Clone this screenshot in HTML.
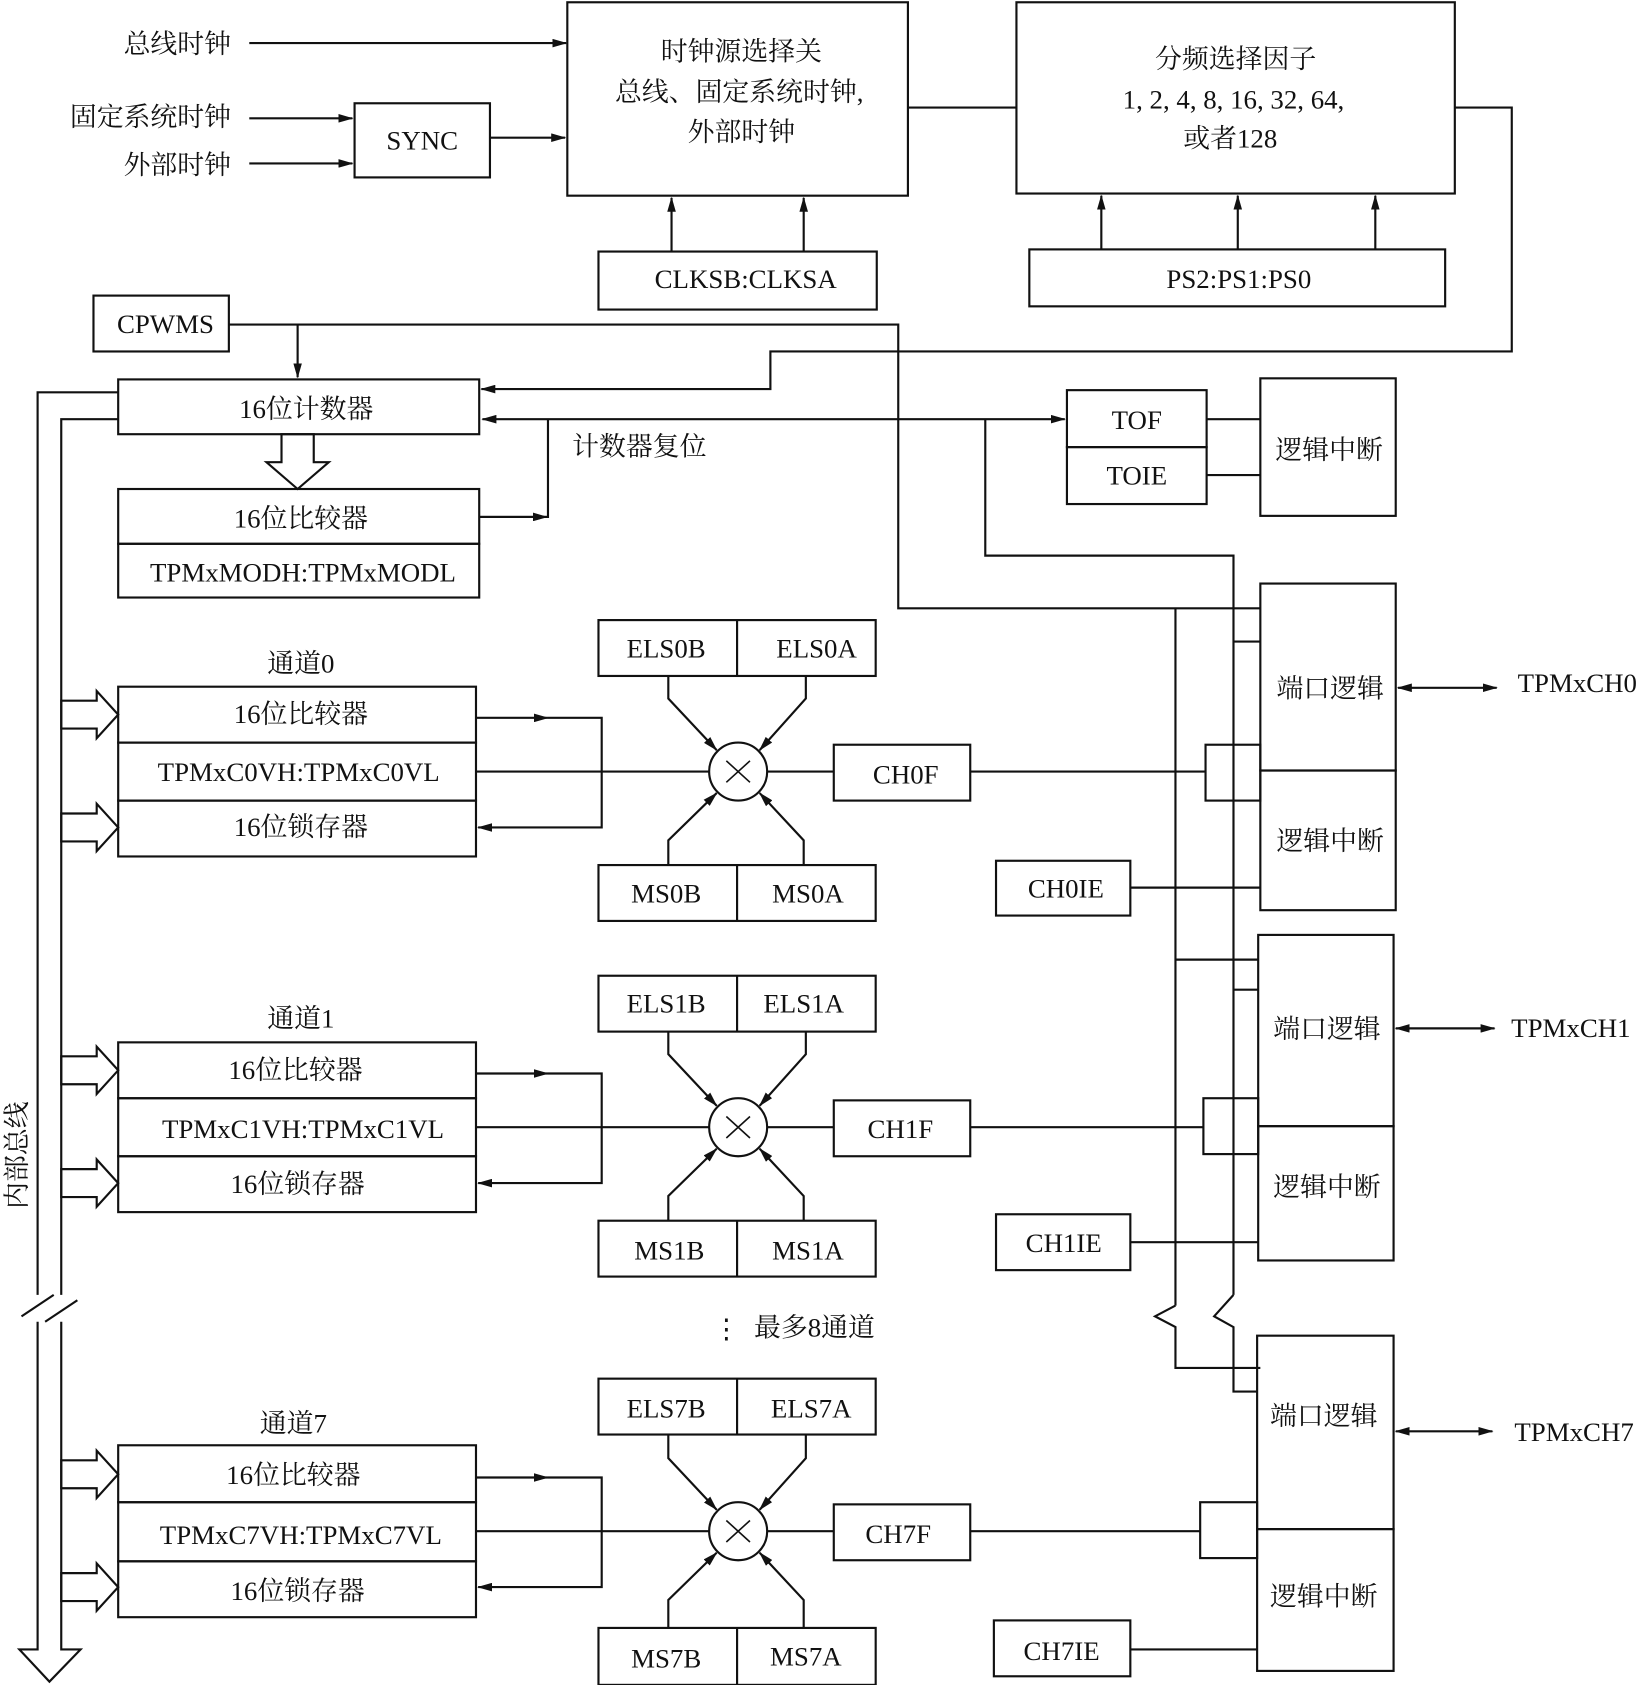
<!DOCTYPE html>
<html><head><meta charset="utf-8">
<style>
html,body{margin:0;padding:0;background:#fff;}
svg{display:block;}
text{font-family:"Liberation Serif","Noto Serif CJK SC","Noto Sans CJK SC",serif;font-size:25px;fill:#111;}
</style></head><body>
<svg width="1645" height="1685" viewBox="0 0 1531 1568" xmlns="http://www.w3.org/2000/svg">
<defs>
<marker id="a" markerWidth="14" markerHeight="8" refX="13" refY="4" orient="auto" markerUnits="userSpaceOnUse"><path d="M0,0 L14,4 L0,8 z" fill="#111"/></marker>
<marker id="s" markerWidth="14" markerHeight="8" refX="1" refY="4" orient="auto" markerUnits="userSpaceOnUse"><path d="M14,0 L0,4 L14,8 z" fill="#111"/></marker>
</defs>
<g fill="none" stroke="#111" stroke-width="2">
<!-- top -->
<line x1="232" y1="40" x2="527" y2="40" marker-end="url(#a)"/>
<line x1="232" y1="110" x2="328" y2="110" marker-end="url(#a)"/>
<line x1="232" y1="152" x2="328" y2="152" marker-end="url(#a)"/>
<rect x="330" y="96" width="126" height="69"/>
<line x1="456" y1="128" x2="526" y2="128" marker-end="url(#a)"/>
<rect x="528" y="2" width="317" height="180"/>
<line x1="845" y1="100" x2="946" y2="100"/>
<rect x="946" y="2" width="408" height="178"/>
<polyline points="1354,100 1407,100 1407,327 717,327 717,362 448,362" marker-end="url(#a)"/>
<rect x="557" y="234" width="259" height="54"/>
<line x1="625" y1="234" x2="625" y2="184" marker-end="url(#a)"/>
<line x1="748" y1="234" x2="748" y2="184" marker-end="url(#a)"/>
<rect x="958" y="232" width="387" height="53"/>
<line x1="1025" y1="232" x2="1025" y2="182" marker-end="url(#a)"/>
<line x1="1152" y1="232" x2="1152" y2="182" marker-end="url(#a)"/>
<line x1="1280" y1="232" x2="1280" y2="182" marker-end="url(#a)"/>
<rect x="87" y="275" width="126" height="52"/>
<polyline points="213,302 836,302 836,566 1173,566"/>
<line x1="277" y1="302" x2="277" y2="351" marker-end="url(#a)"/>
<rect x="110" y="353" width="336" height="51"/>
<line x1="449" y1="390" x2="991" y2="390" marker-start="url(#s)" marker-end="url(#a)"/>
<polyline points="917,390 917,517 1148,517 1148,1205"/>
<polyline points="446,481 510,481 510,390"/>
<line x1="446" y1="481" x2="509" y2="481" marker-end="url(#a)"/>
<polygon points="262,404 292,404 292,430 306,430 277,455 248,430 262,430"/>
<rect x="110" y="455" width="336" height="51"/>
<rect x="110" y="506" width="336" height="50"/>
<rect x="993" y="363" width="130" height="53"/>
<rect x="993" y="416" width="130" height="53"/>
<rect x="1173" y="352" width="126" height="128"/>
<line x1="1123" y1="390" x2="1173" y2="390"/>
<line x1="1123" y1="442" x2="1173" y2="442"/>
<!-- bus -->
<polyline points="110,365 35,365 35,1205"/>
<polyline points="110,390 57,390 57,1205"/>
<polyline points="35,1230 35,1535 18,1535 46,1565 75,1535 57,1535 57,1230"/>
<polyline points="20,1225 50,1205"/>
<polyline points="42,1230 72,1210"/>
<!-- vertical lines right -->
<line x1="1094" y1="566" x2="1094" y2="1215"/>
<polyline points="1094,1215 1075,1225 1094,1235 1094,1273 1173,1273"/>
<polyline points="1148,1205 1130,1225 1148,1235 1148,1295 1170,1295"/>
<line x1="1148" y1="597" x2="1173" y2="597"/>
<line x1="1094" y1="893" x2="1171" y2="893"/>
<line x1="1148" y1="921" x2="1171" y2="921"/>
</g>
<g id="ch0" fill="none" stroke="#111" stroke-width="2">
<polygon points="57,652 90,652 90,643 110,665 90,687 90,678 57,678"/>
<polygon points="57,757 90,757 90,748 110,770 90,792 90,783 57,783"/>
<rect x="110" y="639" width="333" height="52"/>
<rect x="110" y="691" width="333" height="54"/>
<rect x="110" y="745" width="333" height="52"/>
<line x1="443" y1="668" x2="510" y2="668" marker-end="url(#a)"/>
<polyline points="510,668 560,668 560,770 445,770" marker-end="url(#a)"/>
<line x1="443" y1="718" x2="660" y2="718"/>
<circle cx="687" cy="718" r="27"/>
<path d="M676,708 L698,728 M698,708 L676,728" stroke-width="1.5"/>
<line x1="714" y1="718" x2="776" y2="718"/>
<rect x="776" y="693" width="127" height="52"/>
<line x1="903" y1="718" x2="1122" y2="718"/>
<rect x="1122" y="693" width="51" height="52"/>
<rect x="557" y="577" width="258" height="52"/>
<line x1="686" y1="577" x2="686" y2="629"/>
<polyline points="622,629 622,650 667,698" marker-end="url(#a)"/>
<polyline points="750,629 750,650 707,698" marker-end="url(#a)"/>
<rect x="557" y="805" width="258" height="52"/>
<line x1="686" y1="805" x2="686" y2="857"/>
<polyline points="622,805 622,782 667,738" marker-end="url(#a)"/>
<polyline points="748,805 748,782 707,738" marker-end="url(#a)"/>
<rect x="1173" y="543" width="126" height="174"/>
<rect x="1173" y="717" width="126" height="130"/>
<line x1="1301" y1="640" x2="1393" y2="640" marker-start="url(#s)" marker-end="url(#a)"/>
<rect x="927" y="801" width="125" height="51"/>
<line x1="1052" y1="826" x2="1173" y2="826"/>
</g>
<g fill="none" stroke="#111" stroke-width="2" transform="translate(0,331)">
<polygon points="57,652 90,652 90,643 110,665 90,687 90,678 57,678"/>
<polygon points="57,757 90,757 90,748 110,770 90,792 90,783 57,783"/>
<rect x="110" y="639" width="333" height="52"/>
<rect x="110" y="691" width="333" height="54"/>
<rect x="110" y="745" width="333" height="52"/>
<line x1="443" y1="668" x2="510" y2="668" marker-end="url(#a)"/>
<polyline points="510,668 560,668 560,770 445,770" marker-end="url(#a)"/>
<line x1="443" y1="718" x2="660" y2="718"/>
<circle cx="687" cy="718" r="27"/>
<path d="M676,708 L698,728 M698,708 L676,728" stroke-width="1.5"/>
<line x1="714" y1="718" x2="776" y2="718"/>
<rect x="776" y="693" width="127" height="52"/>
<line x1="903" y1="718" x2="1120" y2="718"/>
<rect x="1120" y="691" width="51" height="52"/>
<rect x="557" y="577" width="258" height="52"/>
<line x1="686" y1="577" x2="686" y2="629"/>
<polyline points="622,629 622,650 667,698" marker-end="url(#a)"/>
<polyline points="750,629 750,650 707,698" marker-end="url(#a)"/>
<rect x="557" y="805" width="258" height="52"/>
<line x1="686" y1="805" x2="686" y2="857"/>
<polyline points="622,805 622,782 667,738" marker-end="url(#a)"/>
<polyline points="748,805 748,782 707,738" marker-end="url(#a)"/>
<rect x="1171" y="539" width="126" height="178"/>
<rect x="1171" y="717" width="126" height="125"/>
<line x1="1299" y1="626" x2="1391" y2="626" marker-start="url(#s)" marker-end="url(#a)"/>
<rect x="927" y="799" width="125" height="52"/>
<line x1="1052" y1="825" x2="1171" y2="825"/>
</g>
<g fill="none" stroke="#111" stroke-width="2" transform="translate(0,707)">
<polygon points="57,652 90,652 90,643 110,665 90,687 90,678 57,678"/>
<polygon points="57,757 90,757 90,748 110,770 90,792 90,783 57,783"/>
<rect x="110" y="638" width="333" height="53"/>
<rect x="110" y="691" width="333" height="55"/>
<rect x="110" y="746" width="333" height="52"/>
<line x1="443" y1="668" x2="510" y2="668" marker-end="url(#a)"/>
<polyline points="510,668 560,668 560,770 445,770" marker-end="url(#a)"/>
<line x1="443" y1="718" x2="660" y2="718"/>
<circle cx="687" cy="718" r="27"/>
<path d="M676,708 L698,728 M698,708 L676,728" stroke-width="1.5"/>
<line x1="714" y1="718" x2="776" y2="718"/>
<rect x="776" y="693" width="127" height="52"/>
<line x1="903" y1="718" x2="1117" y2="718"/>
<rect x="1117" y="691" width="53" height="52"/>
<rect x="557" y="576" width="258" height="52"/>
<line x1="686" y1="576" x2="686" y2="628"/>
<polyline points="622,628 622,650 667,698" marker-end="url(#a)"/>
<polyline points="750,628 750,650 707,698" marker-end="url(#a)"/>
<rect x="557" y="808" width="258" height="53"/>
<line x1="686" y1="808" x2="686" y2="861"/>
<polyline points="622,808 622,782 667,738" marker-end="url(#a)"/>
<polyline points="748,808 748,782 707,738" marker-end="url(#a)"/>
<rect x="1170" y="536" width="127" height="180"/>
<rect x="1170" y="716" width="127" height="132"/>
<line x1="1299" y1="625" x2="1389" y2="625" marker-start="url(#s)" marker-end="url(#a)"/>
<rect x="925" y="801" width="127" height="52"/>
<line x1="1052" y1="828" x2="1170" y2="828"/>
</g>
<g text-anchor="middle">
<text x="165" y="49">总线时钟</text>
<text x="140" y="117">固定系统时钟</text>
<text x="165" y="162">外部时钟</text>
<text x="393" y="139">SYNC</text>
<text x="690" y="56">时钟源选择关</text>
<text x="688" y="94">总线、固定系统时钟,</text>
<text x="690" y="131">外部时钟</text>
<text x="1150" y="63">分频选择因子</text>
<text x="1148" y="101">1, 2, 4, 8, 16, 32, 64,</text>
<text x="1145" y="137">或者128</text>
<text x="694" y="268">CLKSB:CLKSA</text>
<text x="1153" y="268">PS2:PS1:PS0</text>
<text x="154" y="310">CPWMS</text>
<text x="285" y="389">16位计数器</text>
<text x="595" y="424" >计数器复位</text>
<text x="280" y="491">16位比较器</text>
<text x="282" y="541">TPMxMODH:TPMxMODL</text>
<text x="1058" y="399">TOF</text>
<text x="1058" y="451">TOIE</text>
<text x="1237" y="427">逻辑中断</text>
<!-- ch0 -->
<text x="280" y="626">通道0</text>
<text x="280" y="673">16位比较器</text>
<text x="278" y="727">TPMxC0VH:TPMxC0VL</text>
<text x="280" y="778">16位锁存器</text>
<text x="620" y="612">ELS0B</text>
<text x="760" y="612">ELS0A</text>
<text x="620" y="840">MS0B</text>
<text x="752" y="840">MS0A</text>
<text x="843" y="729">CH0F</text>
<text x="992" y="835">CH0IE</text>
<text x="1238" y="649">端口逻辑</text>
<text x="1238" y="791">逻辑中断</text>
<text x="1468" y="644">TPMxCH0</text>
<!-- ch1 -->
<text x="280" y="956">通道1</text>
<text x="275" y="1004">16位比较器</text>
<text x="282" y="1059">TPMxC1VH:TPMxC1VL</text>
<text x="277" y="1110">16位锁存器</text>
<text x="620" y="942">ELS1B</text>
<text x="748" y="942">ELS1A</text>
<text x="623" y="1172">MS1B</text>
<text x="752" y="1172">MS1A</text>
<text x="838" y="1059">CH1F</text>
<text x="990" y="1165">CH1IE</text>
<text x="1235" y="966">端口逻辑</text>
<text x="1235" y="1113">逻辑中断</text>
<text x="1462" y="965">TPMxCH1</text>
<text x="676" y="1245" font-size="28">⋮</text>
<text x="758" y="1244">最多8通道</text>
<!-- ch7 -->
<text x="273" y="1333">通道7</text>
<text x="273" y="1381">16位比较器</text>
<text x="280" y="1437">TPMxC7VH:TPMxC7VL</text>
<text x="277" y="1489">16位锁存器</text>
<text x="620" y="1319">ELS7B</text>
<text x="755" y="1319">ELS7A</text>
<text x="620" y="1552">MS7B</text>
<text x="750" y="1550">MS7A</text>
<text x="836" y="1436">CH7F</text>
<text x="988" y="1545">CH7IE</text>
<text x="1232" y="1326">端口逻辑</text>
<text x="1232" y="1494">逻辑中断</text>
<text x="1465" y="1341">TPMxCH7</text>
</g>
<text x="0" y="0" transform="translate(24,1075) rotate(-90)" text-anchor="middle">内部总线</text>
</svg>
</body></html>
